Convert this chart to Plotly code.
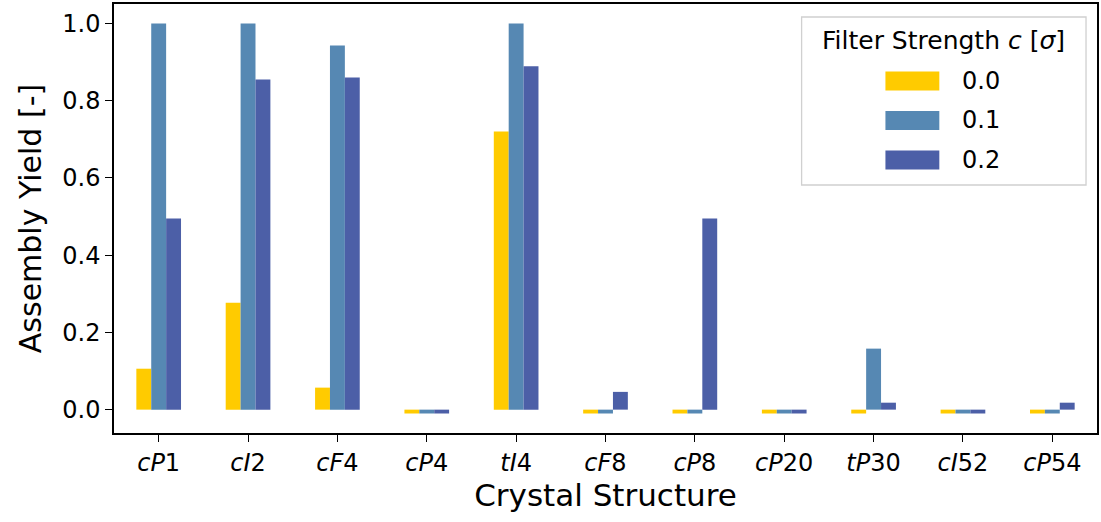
import plotly.graph_objects as go

categories = ["cP1", "cI2", "cF4", "cP4", "tI4", "cF8", "cP8", "cP20", "tP30", "cI52", "cP54"]
tick_labels = ["<i>cP</i>1", "<i>cI</i>2", "<i>cF</i>4", "<i>cP</i>4", "<i>tI</i>4", "<i>cF</i>8",
               "<i>cP</i>8", "<i>cP</i>20", "<i>tP</i>30", "<i>cI</i>52", "<i>cP</i>54"]
series_names = ["0.0", "0.1", "0.2"]
yield_c00 = [0.106, 0.277, 0.057, -0.01, 0.72, -0.01, -0.01, -0.01, -0.01, -0.01, -0.01]
yield_c01 = [1.0, 1.0, 0.943, -0.01, 1.0, -0.01, -0.01, -0.01, 0.158, -0.01, -0.01]
yield_c02 = [0.495, 0.855, 0.86, -0.01, 0.889, 0.046, 0.495, -0.01, 0.018, -0.01, 0.018]
colors = ["#FFCB00", "#5688B3", "#4C5FA7"]

W, H = 1101, 522
L, R, T, B = 114, 2, 4, 89
pw, ph = W - L - R, H - T - B

def px(x):
    return (x - L) / pw

def py(y):
    return (H - B - y) / ph

fig = go.Figure()
for name, vals, col in zip(series_names, [yield_c00, yield_c01, yield_c02], colors):
    fig.add_trace(go.Bar(x=categories, y=vals, name=name, marker_color=col,
                         marker_line_width=0, showlegend=False))

font = "DejaVu Sans, sans-serif"
fig.update_layout(
    width=W, height=H,
    margin=dict(l=L, r=R, t=T, b=B),
    plot_bgcolor="white", paper_bgcolor="white",
    barmode="group", bargap=0.5, bargroupgap=0,
    font=dict(family=font, size=24, color="black"),
    xaxis=dict(
        tickmode="array", tickvals=categories, ticktext=tick_labels,
        range=[-0.5, 10.5], showline=True, linecolor="black", linewidth=1.5, mirror=True,
        ticks="outside", ticklen=7, tickwidth=1.3, tickcolor="black",
        tickfont=dict(size=24), showgrid=False,
        title=dict(text="Crystal Structure", font=dict(size=31), standoff=9),
    ),
    yaxis=dict(
        range=[-0.0605, 1.0505], tickvals=[0, 0.2, 0.4, 0.6, 0.8, 1.0], tickformat=".1f",
        showline=True, linecolor="black", linewidth=1.5, mirror=True,
        ticks="outside", ticklen=7, tickwidth=1.3, tickcolor="black",
        tickfont=dict(size=24), showgrid=False, zeroline=False,
        title=dict(text="Assembly Yield [-]", font=dict(size=30), standoff=12),
    ),
)

# legend box (matplotlib-style)
fig.add_shape(type="rect", xref="paper", yref="paper",
              x0=px(803), x1=px(1088), y0=py(185), y1=py(17),
              line=dict(color="#d0d0d0", width=1.3), fillcolor="rgba(255,255,255,0.8)", layer="above")
fig.add_annotation(xref="paper", yref="paper", x=px(945), y=py(40),
                   text="Filter Strength <i>c</i> [<i>σ</i>]", showarrow=False,
                   font=dict(size=25), xanchor="center", yanchor="middle")
for i, (name, col) in enumerate(zip(series_names, colors)):
    yc = 81 + i * 39.5
    fig.add_shape(type="rect", xref="paper", yref="paper",
                  x0=px(887), x1=px(941), y0=py(yc + 9.5), y1=py(yc - 9.5),
                  fillcolor=col, line=dict(width=0), layer="above")
    fig.add_annotation(xref="paper", yref="paper", x=px(962), y=py(yc),
                       text=name, showarrow=False, font=dict(size=24),
                       xanchor="left", yanchor="middle")

fig.write_html("out.html")
